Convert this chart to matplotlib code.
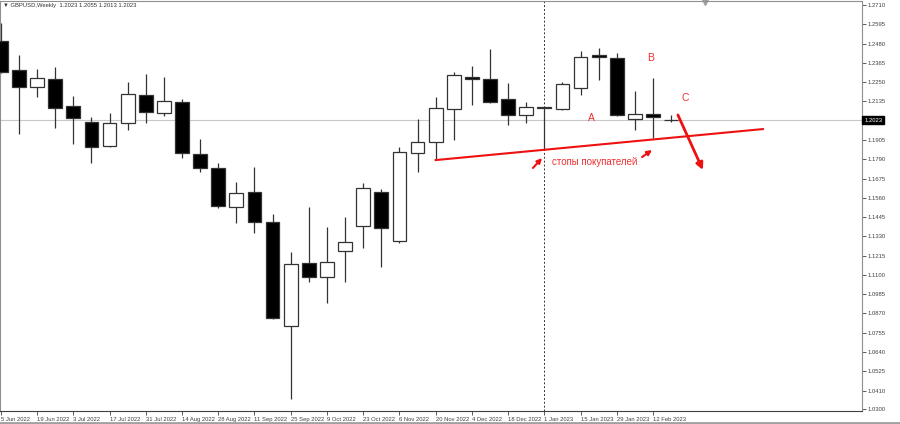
from matplotlib import pyplot as plt
from matplotlib.lines import Line2D

# --- Weekly GBPUSD candles, 5 Jun 2022 .. 19 Feb 2023 ---
opens = [1.2495, 1.2322, 1.2221, 1.2269, 1.2108, 1.2012, 1.1869, 1.2006, 1.2173, 1.2066,
         1.2131, 1.1821, 1.1738, 1.1505, 1.1595, 1.1416, 1.0795, 1.1171, 1.1088, 1.1243,
         1.1392, 1.1595, 1.1302, 1.1827, 1.1893, 1.2090, 1.2275, 1.2269, 1.2149, 1.2054,
         1.2096, 1.2090, 1.2215, 1.2412, 1.2394, 1.2030, 1.2060, 1.2023]
highs = [1.2603, 1.2412, 1.2328, 1.2340, 1.2167, 1.2042, 1.2066, 1.2251, 1.2298, 1.2281,
         1.2149, 1.1911, 1.1768, 1.1654, 1.1744, 1.1463, 1.1237, 1.1505, 1.1386, 1.1446,
         1.1648, 1.1613, 1.1863, 1.2030, 1.2161, 1.2310, 1.2346, 1.2448, 1.2245, 1.2131,
         1.2102, 1.2251, 1.2436, 1.2454, 1.2424, 1.2197, 1.2275, 1.2055]
lows = [1.2305, 1.1941, 1.2161, 1.1976, 1.1881, 1.1768, 1.1866, 1.1964, 1.2006, 1.2048,
        1.1797, 1.1714, 1.1499, 1.1410, 1.1350, 1.0840, 1.0360, 1.1058, 1.0933, 1.1058,
        1.1261, 1.1147, 1.1290, 1.1714, 1.1785, 1.1905, 1.2114, 1.2125, 1.1994, 1.2006,
        1.1845, 1.2084, 1.2173, 1.2263, 1.2048, 1.1964, 1.1917, 1.2013]
closes = [1.2310, 1.2221, 1.2275, 1.2096, 1.2036, 1.1863, 1.2006, 1.2179, 1.2072, 1.2137,
          1.1827, 1.1738, 1.1511, 1.1589, 1.1416, 1.0843, 1.1165, 1.1088, 1.1177, 1.1296,
          1.1618, 1.1380, 1.1833, 1.1893, 1.2096, 1.2292, 1.2269, 1.2131, 1.2054, 1.2102,
          1.2094, 1.2239, 1.2400, 1.2400, 1.2054, 1.2060, 1.2042, 1.2023]

date_labels = ["5 Jun 2022", "19 Jun 2022", "3 Jul 2022", "17 Jul 2022", "31 Jul 2022",
               "14 Aug 2022", "28 Aug 2022", "11 Sep 2022", "25 Sep 2022", "9 Oct 2022",
               "23 Oct 2022", "6 Nov 2022", "20 Nov 2022", "4 Dec 2022", "18 Dec 2022",
               "1 Jan 2023", "15 Jan 2023", "29 Jan 2023", "12 Feb 2023"]
price_ticks = [1.2710, 1.2595, 1.2480, 1.2365, 1.2250, 1.2135, 1.1905, 1.1790, 1.1675,
               1.1560, 1.1445, 1.1330, 1.1215, 1.1100, 1.0985, 1.0870, 1.0755, 1.0640,
               1.0525, 1.0410, 1.0300]
last_price = 1.2023

# Annotations drawn on the chart (candle index, price)
support_line = ([24.0, 42.06], [1.1785, 1.1970])
down_arrow = ((37.37, 1.2054), (38.75, 1.1726))
small_arrows = [((29.37, 1.1738), (29.87, 1.1797)), ((35.39, 1.1803), (35.94, 1.1845))]
wave_labels = [("A", 32.57, 1.2036), ("B", 35.88, 1.2394), ("C", 37.76, 1.2155)]
stops_text = ("стопы покупателей", 32.79, 1.1774)
year_start_idx = 30

SMALL_FONT = ["Liberation Sans", "DejaVu Sans"]
SMALL_SIZE = 4.2

fig = plt.figure(figsize=(9, 4.24), dpi=100)
ax = fig.add_axes([0, 13 / 424, 862 / 900, 410 / 424])
ax.set_xlim(-0.044, 47.53)
ax.set_ylim(1.02883, 1.27339)

# current price line and new year separator
ax.axhline(last_price, color="#c8c8c8", lw=0.8, zorder=1)
ax.axvline(year_start_idx, color="#333333", lw=0.7, ls=(0, (2, 2)), zorder=1)

# candles
body_w = 0.76
min_body = 0.0009
for i, (o, h, l, c) in enumerate(zip(opens, highs, lows, closes)):
    ax.vlines(i, l, h, color="#333333", lw=0.9, zorder=2)
    if o == c:
        ax.hlines(o, i - body_w / 2, i + body_w / 2, color="#333333", lw=0.9, zorder=3)
        continue
    bottom = min(o, c)
    height = max(abs(c - o), min_body)
    face = "white" if c > o else "black"
    ax.bar(i, height, bottom=bottom, width=body_w, color=face,
           edgecolor="#333333", linewidth=0.9, zorder=3)

# red annotations
ax.plot(support_line[0], support_line[1], color="#ee1111", lw=1.5, zorder=4)
ax.annotate("", xy=down_arrow[1], xytext=down_arrow[0],
            arrowprops=dict(arrowstyle="-|>", color="#ee1111", lw=2, mutation_scale=10,
                            shrinkA=0, shrinkB=0), zorder=5)
for start, end in small_arrows:
    ax.annotate("", xy=end, xytext=start,
                arrowprops=dict(arrowstyle="-|>", color="#ee1111", lw=1.5, mutation_scale=7,
                                shrinkA=0, shrinkB=0), zorder=5)
for letter, x, y in wave_labels:
    ax.text(x, y, letter, color="#f03030", fontsize=7.5, ha="center", va="center",
            family=SMALL_FONT)
ax.text(stops_text[1], stops_text[2], stops_text[0], color="#f03030", fontsize=7,
        ha="center", va="center", family=SMALL_FONT)

# axes styling like a trading terminal
for side in ["left", "right", "top"]:
    ax.spines[side].set_color("#909090")
    ax.spines[side].set_linewidth(0.8)
ax.spines["bottom"].set_color("#404040")
ax.spines["bottom"].set_linewidth(0.8)

ax.yaxis.tick_right()
ax.set_yticks(price_ticks)
ax.set_yticklabels([f"{p:.4f}" for p in price_ticks], family=SMALL_FONT)
ax.tick_params(axis="y", direction="out", length=3, width=0.6, colors="#404040",
               labelsize=SMALL_SIZE, pad=1)

ax.set_xticks(range(0, 2 * len(date_labels), 2))
ax.set_xticklabels(date_labels, family=SMALL_FONT)
ax.tick_params(axis="x", direction="out", length=3, width=0.6, colors="#404040",
               labelsize=SMALL_SIZE, pad=1.5)
for lbl in ax.get_xticklabels():
    lbl.set_horizontalalignment("left")

# price tag for the last bar
ax.annotate(f"{last_price:.4f}", xy=(1, last_price), xycoords=("axes fraction", "data"),
            xytext=(1.5, 0), textcoords="offset points", ha="left", va="center",
            fontsize=SMALL_SIZE, color="white", family=SMALL_FONT,
            bbox=dict(boxstyle="square,pad=0.3", facecolor="black", edgecolor="black"))

# chart shift marker and header
ax.plot([38.86], [1.2727], marker="v", color="#a0a0a0", markersize=4, clip_on=False)
fig.text(3 / 900, 1 - 6 / 424, "\u25bc GBPUSD,Weekly  1.2023 1.2055 1.2013 1.2023",
         fontsize=SMALL_SIZE, color="#333333", va="center", family=SMALL_FONT)
fig.add_artist(Line2D([0, 1], [1.5 / 424, 1.5 / 424], color="#a0a0a0", lw=2))

fig.savefig("out.png", dpi=100)
